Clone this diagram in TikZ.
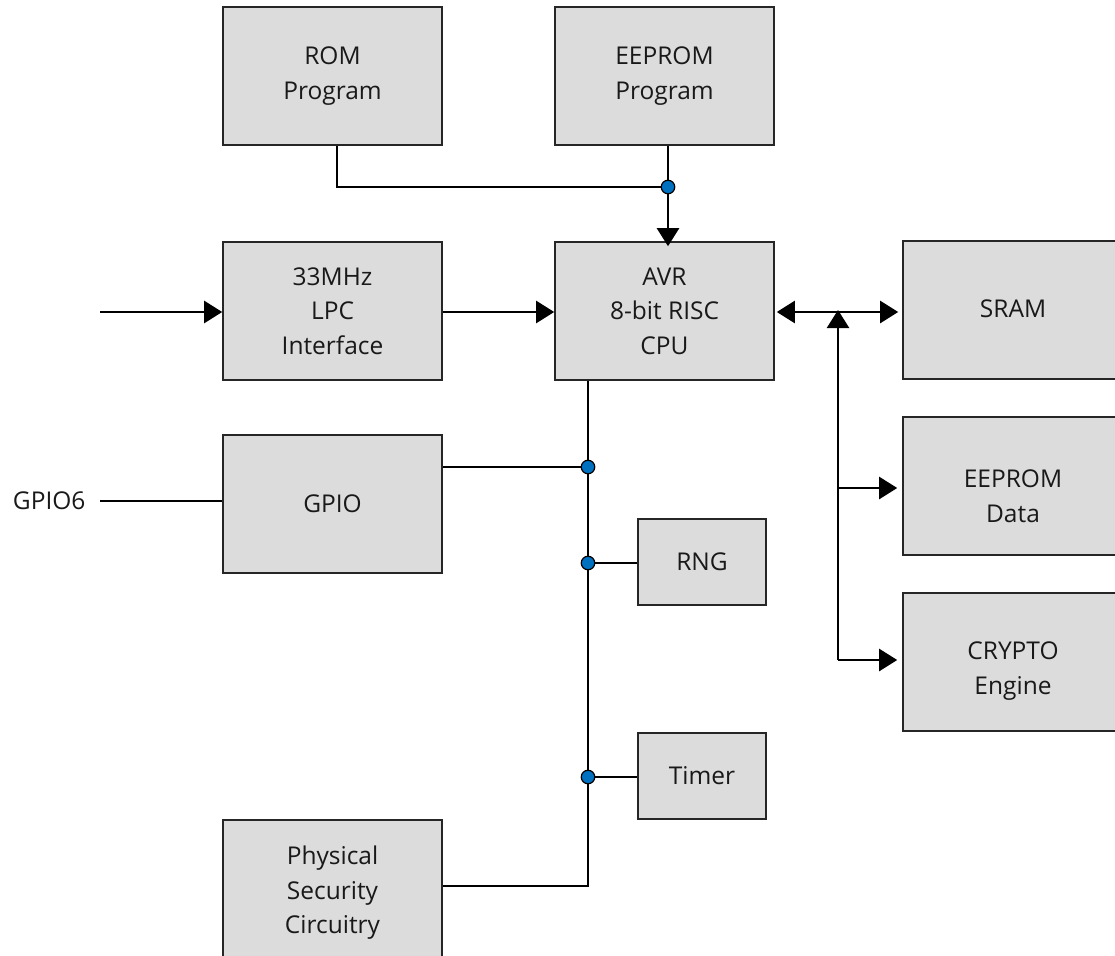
\documentclass[tikz,border=0pt]{standalone}
\usepackage{fontspec}
\setmainfont{Open Sans}
\usetikzlibrary{arrows.meta}
\definecolor{boxfill}{RGB}{220,220,220}
\definecolor{dotblue}{RGB}{0,112,192}
\begin{document}
\begin{tikzpicture}[x=1pt,y=-1pt,
  txt/.style={font=\fontsize{24.5}{34.5}\selectfont,text=black!90,align=center},
  blk/.style={txt,draw=black!85,line width=1.6pt,fill=boxfill,inner sep=0pt},
  conn/.style={line width=2.4pt,draw=black},
  arr/.style={conn,-{Triangle[length=18pt,width=22pt]}},
  darr/.style={conn,{Triangle[length=18pt,width=22pt]}-{Triangle[length=18pt,width=22pt]}},
  jdot/.style={circle,fill=dotblue,draw=black,line width=1.2pt,minimum size=13.5pt,inner sep=0pt}]
\useasboundingbox (0,0) rectangle (1115,955);
\begin{scope}
\clip (0,0) rectangle (1115,955);
\node[blk,minimum width=219pt,minimum height=138pt] (rom) at (332.5,76) {ROM\\Program};
\node[blk,minimum width=219pt,minimum height=138pt] (eprog) at (664.5,76) {EEPROM\\Program};
\node[blk,minimum width=219pt,minimum height=138pt] (lpc) at (332.5,311) {33MHz\\LPC\\Interface};
\node[blk,minimum width=219pt,minimum height=138pt] (cpu) at (664.5,311) {AVR\\8-bit RISC\\CPU};
\node[blk,minimum width=219pt,minimum height=138pt] (gpio) at (332.5,504) {GPIO};
\node[blk,minimum width=128pt,minimum height=86pt] (rng) at (702,562) {RNG};
\node[blk,minimum width=128pt,minimum height=86pt] (timer) at (702,776) {Timer};
\node[blk,minimum width=219pt,minimum height=138pt] (phys) at (332.5,889) {};
\node[txt] (physt) at (332.5,893) {Physical\\Security\\Circuitry};
\node[blk,minimum width=219pt,minimum height=138pt] (sram) at (1012.5,310) {};
\node[txt] (sramt) at (1013,309) {SRAM};
\node[blk,minimum width=219pt,minimum height=138pt] (edata) at (1012.5,486) {};
\node[txt] (edatat) at (1013,496) {EEPROM\\Data};
\node[blk,minimum width=219pt,minimum height=138pt] (crypto) at (1012.5,662) {};
\node[txt] (cryptot) at (1013,671) {CRYPTO\\Engine};
\end{scope}
\node[txt,anchor=east] (gpio6) at (89,501) {GPIO6};

\coordinate (j1) at (668,187);
\coordinate (jg) at (588,467);
\coordinate (jr) at (588,563);
\coordinate (jt) at (588,777);
\coordinate (in) at (100,312);
\coordinate (g6) at (100,501);
\coordinate (bus) at (838,312);
\coordinate (busb) at (838,660);

\draw[conn] (rom.south -| 337,0) |- (j1);
\draw[conn] (eprog.south -| j1) -- (j1);
\draw[arr] (j1) -- ([yshift=-5pt]cpu.north -| j1);
\draw[arr] (in) -- (lpc.west |- in);
\draw[arr] (lpc.east |- in) -- (cpu.west |- in);
\draw[conn] (g6) -- (gpio.west |- g6);
\draw[darr] ([xshift=2pt]cpu.east |- bus) -- ([xshift=-4pt]sram.west |- bus);
\draw[conn,-{Triangle[length=18pt,width=22pt]}] (busb) -- ([yshift=2pt]bus);
\draw[arr] (busb) -- ([xshift=-5pt]crypto.west |- busb);
\draw[arr] (838,488) -- ([xshift=-5pt]edata.west |- 0,488);
\draw[conn] (cpu.south -| jg) -- (jt) |- (phys.east |- 0,886);
\draw[conn] (gpio.east |- jg) -- (jg);
\draw[conn] (jr) -- (rng.west |- jr);
\draw[conn] (jt) -- (timer.west |- jt);
\node[jdot] at (j1) {};
\node[jdot] at (jg) {};
\node[jdot] at (jr) {};
\node[jdot] at (jt) {};
\end{tikzpicture}
\end{document}
